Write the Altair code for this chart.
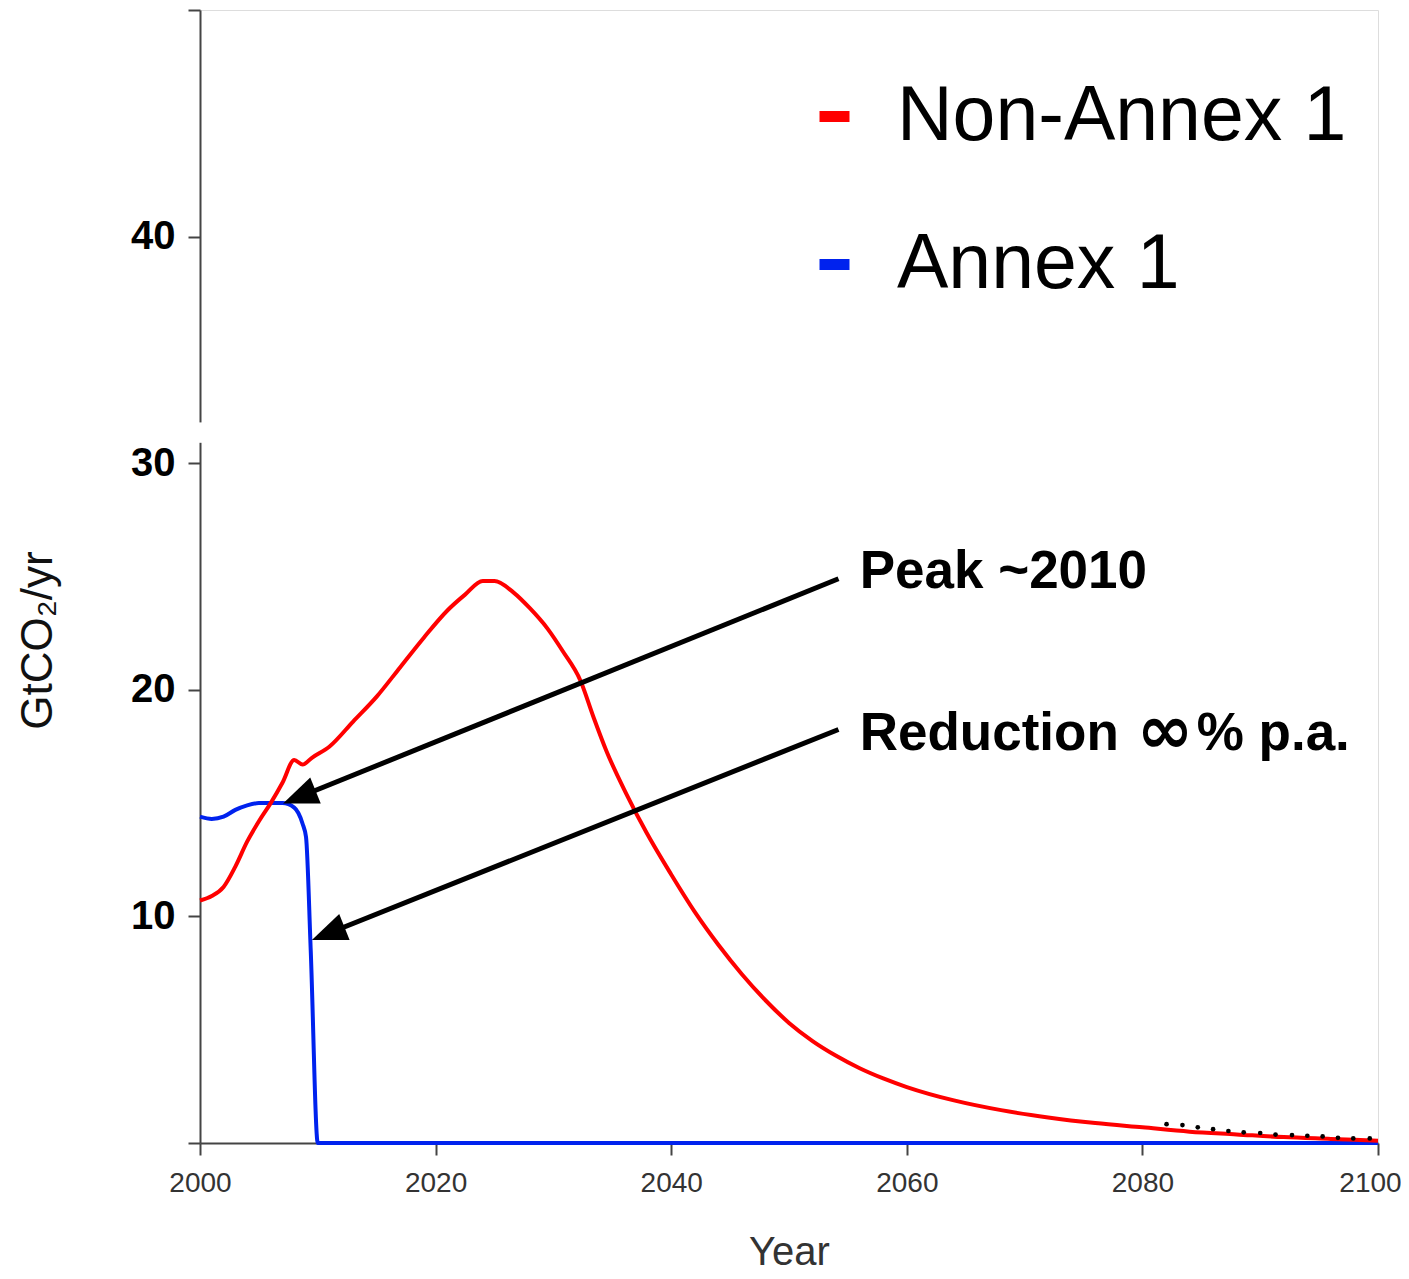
import math
import altair as alt
import pandas as pd

# ---------------- data ----------------
series_names = ["Non-Annex 1", "Annex 1"]
series_colors = ["#ff0000", "#0022ee"]

years_non_annex = [2000, 2001, 2002, 2003, 2004, 2005, 2006, 2007, 2008, 2008.7,
                   2009.5, 2011, 2013, 2015, 2017, 2019, 2021, 2022.5, 2024,
                   2025, 2026.6, 2028, 2029.5, 2030.8, 2032.3, 2033.4, 2034.5,
                   2036.2, 2037.9, 2040, 2042, 2044, 2046, 2048, 2050, 2052, 2054,
                   2056, 2058, 2060, 2064, 2068, 2072, 2076, 2080, 2084, 2088,
                   2092, 2096, 2100]
values_non_annex = [10.7, 10.9, 11.3, 12.2, 13.3, 14.2, 15.0, 15.9, 16.9, 16.7,
                    17.0, 17.5, 18.6, 19.7, 21.0, 22.3, 23.5, 24.2, 24.8,
                    24.8, 24.3, 23.6, 22.7, 21.7, 20.4, 18.8, 17.3,
                    15.4, 13.7, 11.85, 10.2, 8.75, 7.45, 6.3, 5.3, 4.5, 3.85,
                    3.3, 2.85, 2.47, 1.88, 1.45, 1.13, 0.88, 0.69, 0.50, 0.38,
                    0.26, 0.18, 0.10]

years_annex = [2000, 2001, 2002, 2003, 2004, 2005, 2006, 2007, 2008, 2008.7,
               2009.0, 2009.4, 2010, 2100]
values_annex = [14.4, 14.3, 14.4, 14.7, 14.9, 15.0, 15.0, 15.0, 14.8, 14.1,
                13.5, 8.5, 0.0, 0.0]

dot_years = [2082.05, 2083.4, 2084.7, 2086.0, 2087.3, 2088.6, 2090.0, 2091.3,
             2092.7, 2094.0, 2095.3, 2096.6, 2097.9, 2099.3]
dot_values = [0.83, 0.79, 0.69, 0.61, 0.53, 0.47, 0.44, 0.37, 0.35, 0.32,
              0.29, 0.23, 0.20, 0.20]

x_ticks = [2000, 2020, 2040, 2060, 2080, 2100]
y_ticks = [0, 10, 20, 30, 40, 50]

# annotation texts ("Reduction ∞% p.a." is set in three pieces so the ∞ can be larger)
peak_text = "Peak ~2010"
reduction_parts = ["Reduction", "\u221e", "% p.a."]
annotation_x = 2056.0
peak_y = 24.49
reduction_y = 17.34

arrow_from_x = [2054.2, 2054.2]
arrow_from_y = [24.9, 18.25]
arrow_to_x = [2007.05, 2009.5]
arrow_to_y = [14.98, 8.96]

axis_break = [30.9, 31.8]

# ---------------- layout ----------------
W, H = 1178, 1133
X_DOMAIN = [2000, 2100]
Y_DOMAIN = [0, 50]
FONT = "Liberation Sans"
px_x = W / (X_DOMAIN[1] - X_DOMAIN[0])
px_y = H / (Y_DOMAIN[1] - Y_DOMAIN[0])

annex_df = pd.DataFrame({"year": years_annex, "value": values_annex, "series": series_names[1]})
non_annex_df = pd.DataFrame({"year": years_non_annex, "value": values_non_annex, "series": series_names[0]})
dots_df = pd.DataFrame({"year": dot_years, "value": dot_values})

# arrows: shaft stops a little before the tip, head rotated along the shaft
rows = []
for x0, y0, x1, y1 in zip(arrow_from_x, arrow_from_y, arrow_to_x, arrow_to_y):
    dx = (x1 - x0) * px_x
    dy = -(y1 - y0) * px_y
    n = math.hypot(dx, dy)
    ang = math.degrees(math.atan2(dx, -dy)) % 360
    back = 16.0
    ex = x1 - back * dx / n / px_x
    ey = y1 + back * dy / n / px_y
    rows.append({"year": x0, "value": y0, "year2": ex, "value2": ey,
                 "tipx": x1, "tipy": y1, "angle": ang})
arrow_df = pd.DataFrame(rows)
head_df = arrow_df[["tipx", "tipy", "angle"]].rename(columns={"tipx": "year", "tipy": "value"})
break_df = pd.DataFrame({"year": [X_DOMAIN[0]], "value": [axis_break[0]], "value2": [axis_break[1]]})

x_scale = alt.Scale(domain=X_DOMAIN, nice=False, zero=False)
y_scale = alt.Scale(domain=Y_DOMAIN, nice=False)

x_axis = alt.Axis(values=x_ticks, format="d",
                  labelOffset={"condition": {"test": "datum.value == 2100", "value": -8}, "value": 0},
                  labelFontSize=28, labelFont=FONT,
                  labelColor="#333333", labelPadding=14, labelFlush=False,
                  labelOverlap=False, tickSize=12, tickColor="#444444", tickWidth=2,
                  domainColor="#444444", domainWidth=2, grid=False, zindex=0,
                  title="Year", titleFont=FONT, titleFontSize=40,
                  titleFontWeight="normal", titleColor="#333333",
                  titleY=121, titleBaseline="alphabetic")
y_axis = alt.Axis(values=y_ticks,
                  labelExpr="datum.value > 0 && datum.value < 50 ? datum.label : ''",
                  labelFontSize=40, labelFont=FONT, labelFontWeight="bold",
                  labelColor="black", labelPadding=13, labelFlush=False,
                  labelOverlap=False, tickSize=12, tickColor="#444444", tickWidth=2,
                  domainColor="#444444", domainWidth=2, grid=False, zindex=0,
                  title="GtCO\u2082/yr", titleFont=FONT, titleFontSize=44,
                  titleFontWeight="normal", titleColor="#111111", titleAngle=270,
                  titleX=-162, titleY=630, titleAlign="center", titleBaseline="middle")

X = alt.X("year:Q", scale=x_scale, axis=x_axis)
Y = alt.Y("value:Q", scale=y_scale, axis=y_axis)

color = alt.Color("series:N",
                  scale=alt.Scale(domain=series_names, range=series_colors),
                  legend=alt.Legend(title=None, orient="none", legendX=596, legendY=68,
                                    symbolType="stroke", symbolSize=900,
                                    symbolStrokeWidth=11, labelFont=FONT,
                                    labelFontSize=77, labelColor="black",
                                    labelLimit=0, labelOffset=24, rowPadding=70,
                                    padding=0))

blue_line = alt.Chart(annex_df).mark_line(strokeWidth=4, interpolate="monotone").encode(
    x=X, y=Y, color=color)
red_line = alt.Chart(non_annex_df).mark_line(strokeWidth=4, interpolate="monotone").encode(
    x=X, y=Y, color=color)

dots = alt.Chart(dots_df).mark_circle(size=22, color="black", opacity=1).encode(x=X, y=Y)

axis_gap = alt.Chart(break_df).mark_rule(color="white", strokeWidth=9).encode(
    x=X, y=Y, y2="value2:Q")

shafts = alt.Chart(arrow_df).mark_rule(color="black", strokeWidth=5).encode(
    x=X, y=Y, x2="year2:Q", y2="value2:Q")

heads = alt.Chart(head_df).mark_point(
    shape="M0,0L-0.4,1L0.4,1Z", size=4900, filled=True, color="black",
    opacity=1, strokeWidth=0).encode(
    x=X, y=Y, angle=alt.Angle("angle:Q", scale=None))


def note(text, y, **style):
    df = pd.DataFrame({"year": [annotation_x], "value": [y], "label": [text]})
    base = dict(align="left", baseline="alphabetic", font=FONT, fontSize=53,
                fontWeight="bold", color="black")
    base.update(style)
    return alt.Chart(df).mark_text(**base).encode(x=X, y=Y, text="label:N")


peak_label = note(peak_text, peak_y)
red_1 = note(reduction_parts[0], reduction_y)
red_2 = note(reduction_parts[1], reduction_y, dx=277, dy=3, fontSize=68, font="DejaVu Sans")
red_3 = note(reduction_parts[2], reduction_y, dx=337)

chart = alt.layer(blue_line, red_line, dots, axis_gap, shafts, heads,
                  peak_label, red_1, red_2, red_3).properties(
    width=W, height=H,
    autosize=alt.AutoSizeParams(type="none"),
    padding={"left": 192, "top": 2, "right": 23, "bottom": 128},
).configure_view(stroke="#444444", strokeWidth=2).configure(background="white")

chart.save("out.html", embed_options={"renderer": "svg", "actions": False})
